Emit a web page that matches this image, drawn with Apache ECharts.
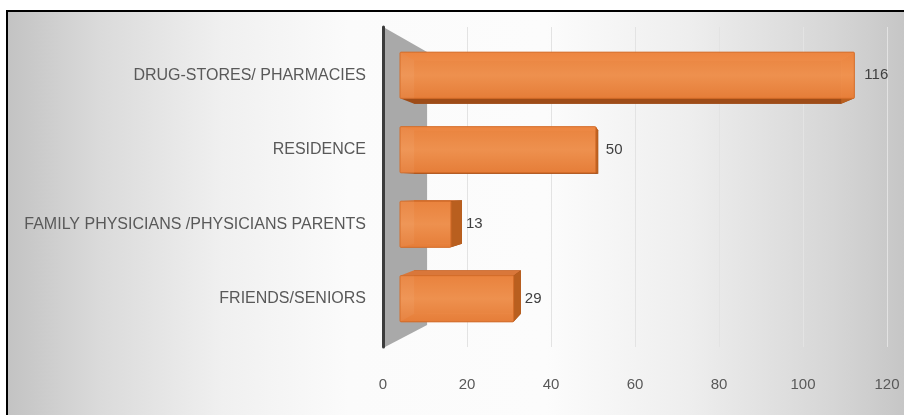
<!DOCTYPE html>
<html>
<head>
<meta charset="utf-8">
<script src="https://cdn.jsdelivr.net/npm/echarts@6/dist/echarts.min.js"></script>
<style>
  html, body { margin: 0; padding: 0; background: #ffffff; }
  #frame {
    position: absolute; left: 6px; top: 10px; width: 898px; height: 405px;
    box-sizing: border-box; border-left: 2px solid #000; border-top: 2px solid #000;
    background: linear-gradient(to right, #c3c3c3 0%, #dadada 10%, #f0f0f0 24%, #fbfbfb 38%, #fcfcfc 60%, #eeeeee 76%, #d6d6d6 92%, #c6c6c6 100%);
  }
  #chart { position: absolute; left: 0; top: 0; width: 904px; height: 415px; }
</style>
</head>
<body>
<div id="frame"></div>
<div id="chart"></div>
<script>
// Where respondents get their information (count of answers)
const categories = [
  'DRUG-STORES/ PHARMACIES',
  'RESIDENCE',
  'FAMILY PHYSICIANS /PHYSICIANS PARENTS',
  'FRIENDS/SENIORS'
];
const counts = [116, 50, 13, 29];
const axisTicks = [0, 20, 40, 60, 80, 100, 120];

const FONT = '"Liberation Sans", Arial, sans-serif';
const TEXT = '#595959';

// Perspective helper: move a point toward the vanishing point by factor t
function toward(p, v, t) {
  return [p[0] + (v[0] - p[0]) * t, p[1] + (v[1] - p[1]) * t];
}

// Box-shaped bar: back face, four depth faces, then the front face on top
function renderBar(params, api) {
  const idx = api.value(0);
  const val = api.value(1);
  const band = api.size([0, 1])[1];
  const h = band * 0.62;
  const start = api.coord([0, idx]);
  const end = api.coord([val, idx]);
  const cs = params.coordSys;
  const vp = [api.coord([60, 0])[0], cs.y + cs.height / 2];
  const t = 0.06;

  const x0 = start[0], x1 = end[0];
  const y0 = start[1] - h / 2, y1 = start[1] + h / 2;
  const f = [[x0, y0], [x1, y0], [x1, y1], [x0, y1]];
  const b = f.map(p => toward(p, vp, t));

  const quad = (pts, fill) => ({ type: 'polygon', shape: { points: pts }, style: { fill: fill } });
  const labelX = Math.max(x1 + 10, b[1][0] + 4);

  const children = [
    quad(b, '#9c4a16'),
    quad([f[0], f[1], b[1], b[0]], '#d9773a'),  // top
    quad([f[3], f[2], b[2], b[3]], '#9e4c18'),  // bottom
    quad([f[1], f[2], b[2], b[1]], '#b95f1f'),  // right end
    {
      type: 'rect',
      shape: { x: x0, y: y0, width: x1 - x0, height: h, r: 1 },
      style: {
        fill: new echarts.graphic.LinearGradient(0, 0, 0, 1, [
          { offset: 0, color: '#ee8640' },
          { offset: 0.5, color: '#f39552' },
          { offset: 1, color: '#ea803a' }
        ]),
        stroke: '#d46c28', lineWidth: 1, opacity: 0.94
      }
    },
    {
      type: 'text',
      style: {
        text: String(val),
        x: labelX, y: start[1],
        verticalAlign: 'middle', align: 'left',
        fill: '#404040', font: '15px ' + FONT
      }
    }
  ];
  return { type: 'group', children: children };
}

// Grey side wall behind the start of the bars
function renderWall(params, api) {
  const cs = params.coordSys;
  const xr = api.coord([api.value(0), 0])[0];
  const xl = cs.x + 2;
  const top = cs.y, bot = cs.y + cs.height;
  return {
    type: 'polygon',
    shape: { points: [[xl, top + 1], [xr, top + 25], [xr, bot - 22], [xl, bot]] },
    style: { fill: '#a9a9a9' }
  };
}

const chart = echarts.init(document.getElementById('chart'), null, { renderer: 'canvas' });
chart.setOption({
  animation: false,
  grid: [
    { left: 383, right: 17, top: 27, bottom: 68 },
    { left: 400, right: 34, top: 38, bottom: 79 }
  ],
  xAxis: [
    {
      gridIndex: 0, type: 'value', min: axisTicks[0], max: axisTicks[axisTicks.length - 1], interval: 20,
      axisLine: { show: false }, axisTick: { show: false },
      axisLabel: { color: TEXT, fontSize: 15, fontFamily: FONT, margin: 30 },
      splitLine: { lineStyle: { color: '#e3e3e3', width: 1 } }
    },
    {
      gridIndex: 1, type: 'value', min: 0, max: 120, show: false
    }
  ],
  yAxis: [
    {
      gridIndex: 0, type: 'category', inverse: true, data: categories,
      axisLabel: { show: false }, axisTick: { show: false },
      axisLine: { show: true, lineStyle: { color: '#3c3c3c', width: 3 } },
      splitLine: { show: false }
    },
    {
      gridIndex: 1, type: 'category', inverse: true, data: categories,
      axisLine: { show: false }, axisTick: { show: false },
      axisLabel: { color: TEXT, fontSize: 16, fontFamily: FONT, margin: 34 }
    }
  ],
  series: [
    {
      type: 'custom', xAxisIndex: 0, yAxisIndex: 0, z: 1,
      renderItem: renderWall, data: [[10.5, 0]], silent: true
    },
    {
      type: 'custom', xAxisIndex: 1, yAxisIndex: 1, z: 3,
      renderItem: renderBar,
      encode: { x: 1, y: 0 },
      data: counts.map((v, i) => [i, v])
    }
  ]
});
</script>
</body>
</html>
